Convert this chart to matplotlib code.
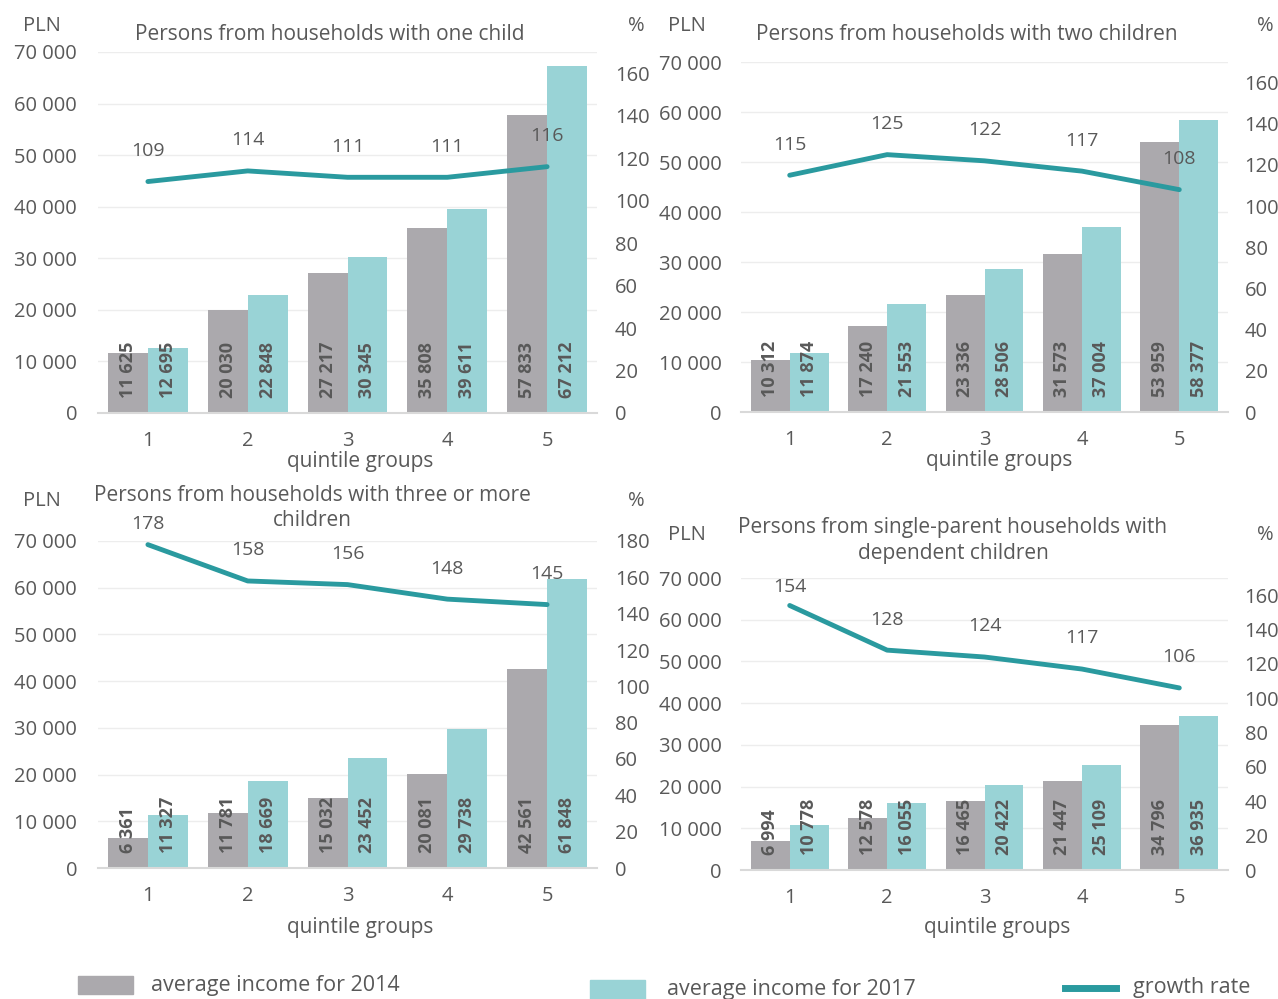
import numpy as np
import matplotlib
matplotlib.use('Agg')
import matplotlib.pyplot as plt
from matplotlib.patches import Rectangle
from matplotlib.lines import Line2D

plt.rcParams['font.family'] = ['Open Sans', 'DejaVu Sans']

quintiles = ['1', '2', '3', '4', '5']

one_2014 = [11625, 20030, 27217, 35808, 57833]
one_2017 = [12695, 22848, 30345, 39611, 67212]
one_rate = [109, 114, 111, 111, 116]

two_2014 = [10312, 17240, 23336, 31573, 53959]
two_2017 = [11874, 21553, 28506, 37004, 58377]
two_rate = [115, 125, 122, 117, 108]

three_2014 = [6361, 11781, 15032, 20081, 42561]
three_2017 = [11327, 18669, 23452, 29738, 61848]
three_rate = [178, 158, 156, 148, 145]

single_2014 = [6994, 12578, 16465, 21447, 34796]
single_2017 = [10778, 16055, 20422, 25109, 36935]
single_rate = [154, 128, 124, 117, 106]

titles = [['Persons from households with one child'],
          ['Persons from households with two children'],
          ['Persons from households with three or more', 'children'],
          ['Persons from single-parent households with', 'dependent children']]

GREY = '#ABA9AD'
TEAL = '#99D3D6'
LINE = '#2A9A9F'
TXT = '#595959'

W, H = 1278, 999
fig = plt.figure(figsize=(W / 100, H / 100), dpi=100)


def px(x, y):
    return x / W, 1 - y / H


def fmt(v):
    return f'{v:,}'.replace(',', ' ')


def panel(rect, d14, d17, rate, rmax, rticks, title, pos):
    l, t, r, b = rect
    ax = fig.add_axes([l / W, 1 - b / H, (r - l) / W, (b - t) / H])
    ax2 = ax.twinx()
    x = np.arange(len(quintiles))
    w = 0.4
    ax.bar(x - w / 2, d14, w, color=GREY, zorder=2)
    ax.bar(x + w / 2, d17, w, color=TEAL, zorder=2)
    for xs, vals in [(x - w / 2, d14), (x + w / 2, d17)]:
        for xi, v in zip(xs, vals):
            ax.annotate(fmt(v), (xi, 0), xytext=(0, 11), textcoords='offset points',
                        rotation=90, ha='center', va='bottom', fontsize=13,
                        fontweight='bold', color=TXT, zorder=3)
    ax.set_xlim(-0.5, 4.5)
    ax.set_ylim(0, 70000)
    ax.set_yticks(np.arange(0, 70001, 10000))
    ax.set_yticklabels([fmt(v) for v in range(0, 70001, 10000)])
    ax.set_xticks(x)
    ax.set_xticklabels(quintiles)
    ax.grid(axis='y', color='#EDEDED', lw=1, zorder=0)
    ax.set_axisbelow(True)
    for s in ['top', 'left', 'right']:
        ax.spines[s].set_visible(False)
        ax2.spines[s].set_visible(False)
    ax.spines['bottom'].set_color('#D9D9D9')
    ax.spines['bottom'].set_linewidth(1.5)
    ax2.spines['bottom'].set_visible(False)
    ax.tick_params(length=0, labelsize=14.5, colors=TXT)
    ax.tick_params(axis='x', pad=13)
    ax.tick_params(axis='y', pad=pos['lpad'])

    ax2.plot(x, rate, color=LINE, lw=3.5, solid_capstyle='round', zorder=4)
    for xi, v, off in zip(x, rate, pos['offs']):
        ax2.annotate(str(v), (xi, v), xytext=(0, off), textcoords='offset points',
                     ha='center', va='center', fontsize=14, color=TXT)
    ax2.set_ylim(0, rmax)
    ax2.set_yticks(rticks)
    ax2.tick_params(length=0, labelsize=14.5, colors=TXT, pad=pos['rpad'])

    fig.text(*px(*pos['pln']), 'PLN', ha='center', va='center', fontsize=14.5, color=TXT)
    fig.text(*px(*pos['pct']), '%', ha='center', va='center', fontsize=14.5, color=TXT)
    tx, ty = pos['title']
    for i, line in enumerate(title):
        fig.text(*px(tx, ty + 26 * i), line, ha='center', va='center', fontsize=15, color=TXT)
    fig.text(*px(*pos['xl']), 'quintile groups', ha='center', va='center',
             fontsize=15, color=TXT)


panel((98, 52, 597, 413), one_2014, one_2017, one_rate, 170, range(0, 161, 20), titles[0],
      {'pln': (42, 26), 'pct': (636, 26), 'title': (330, 35), 'xl': (360, 462),
       'offs': [22, 22, 22, 22, 22], 'lpad': 15, 'rpad': 13})
panel((741, 62, 1228, 412), two_2014, two_2017, two_rate, 170, range(0, 161, 20), titles[1],
      {'pln': (687, 26), 'pct': (1265, 26), 'title': (967, 35), 'xl': (999, 461),
       'offs': [22, 22, 22, 22, 22], 'lpad': 14, 'rpad': 12})
panel((98, 541, 597, 868), three_2014, three_2017, three_rate, 180, range(0, 181, 20), titles[2],
      {'pln': (42, 501), 'pct': (636, 501), 'title': (312, 495), 'xl': (360, 927),
       'offs': [15, 22, 22, 22, 22], 'lpad': 15, 'rpad': 13})
panel((741, 578, 1228, 870), single_2014, single_2017, single_rate, 170, range(0, 161, 20), titles[3],
      {'pln': (687, 535), 'pct': (1265, 535), 'title': (953, 528), 'xl': (997, 927),
       'offs': [13, 22, 22, 22, 22], 'lpad': 14, 'rpad': 12})

# legend
fig.patches.append(Rectangle(px(78, 994), 55 / W, 18 / H, transform=fig.transFigure,
                             color=GREY, figure=fig))
fig.text(*px(151, 986), 'average income for 2014', ha='left', va='center', fontsize=15.5, color=TXT)
fig.patches.append(Rectangle(px(590, 999), 55 / W, 19 / H, transform=fig.transFigure,
                             color=TEAL, figure=fig))
fig.text(*px(667, 989), 'average income for 2017', ha='left', va='center', fontsize=15.5, color=TXT)
fig.lines.append(Line2D([1065 / W, 1116 / W], [1 - 988 / H, 1 - 988 / H], transform=fig.transFigure,
                        color=LINE, lw=5, figure=fig))
fig.text(*px(1133, 988), 'growth rate', ha='left', va='center', fontsize=15.5, color=TXT)

fig.savefig('out.png', dpi=100, facecolor='white')
